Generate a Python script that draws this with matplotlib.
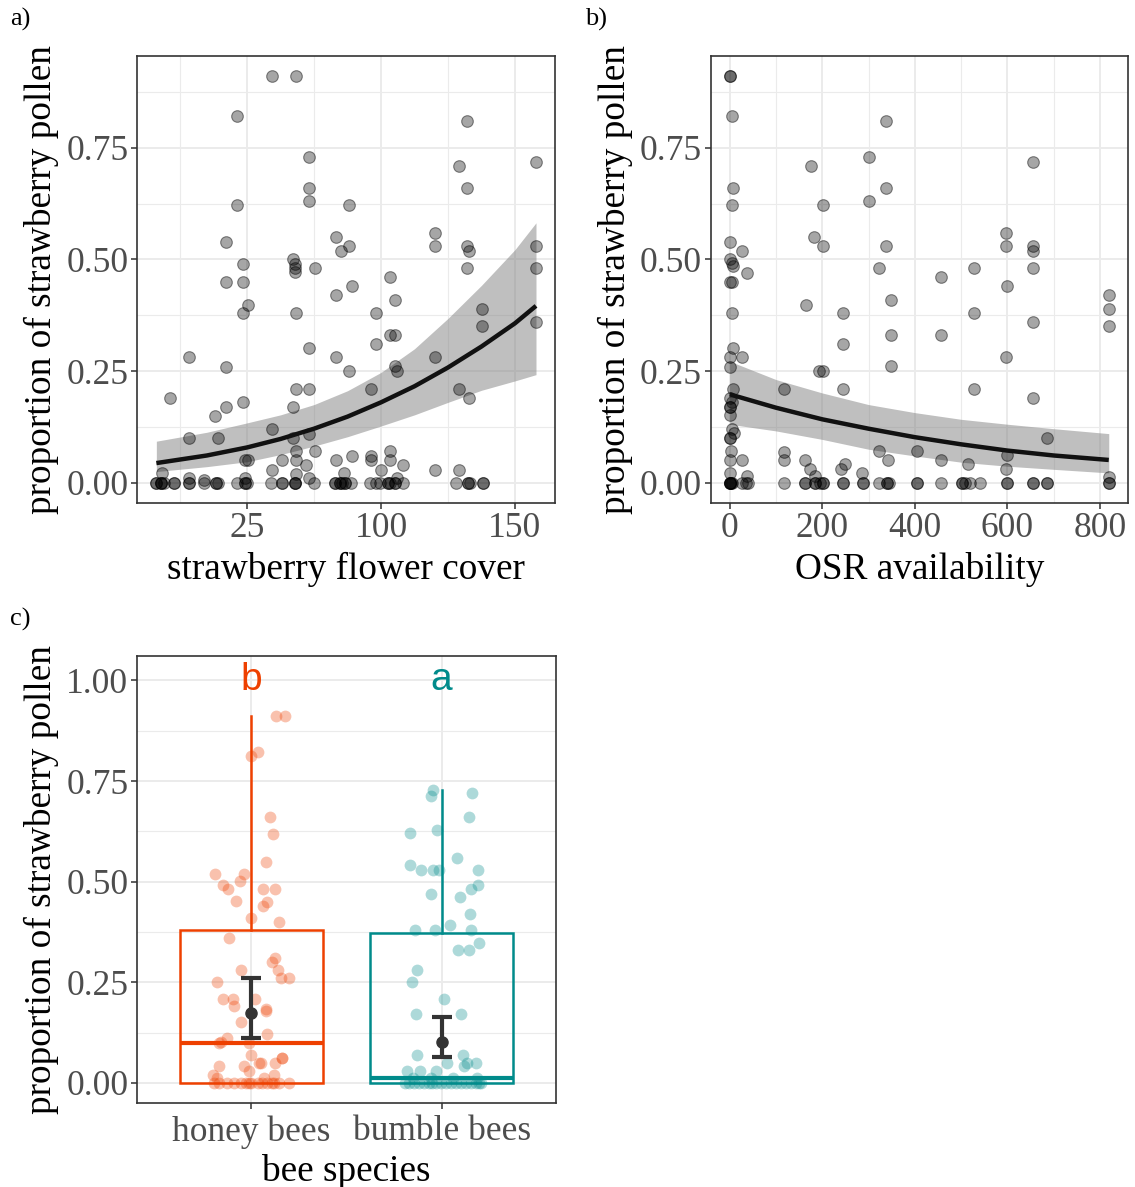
import numpy as np
import matplotlib
matplotlib.use('Agg')
import matplotlib.pyplot as plt
from matplotlib.ticker import FixedLocator

plt.rcParams['font.family'] = ['Liberation Serif', 'DejaVu Serif']

# a) pollen share vs strawberry flower cover (cover on model scale, labelled in raw units)
cover_ticks = [0, 1, 2]
cover_labels = ['25', '100', '150']
cover_x = [0.184, 0.363, -0.075, 1.642, 0.465, 1.582, 2.157, 0.465, 1.642, 0.465,
           0.761, -0.075, 1.400, -0.157, 0.662, 0.761, 0.701, 1.400, 1.642, 1.659,
           2.157, 0.343, 0.356, 0.356, 0.356, -0.032, 0.505, 1.642, 2.157, -0.157,
           -0.032, 1.065, 0.781, 0.662, 1.102, 0.005, -0.032, 0.363, 0.963, 1.756,
           1.756, 2.157, 1.065, 1.102, 0.963, 0.465, -0.435, 0.662, 1.400, -0.157,
           0.761, 1.102, 1.119, 0.363, 0.465, 0.923, 1.582, -0.577, 1.659, -0.032,
           -0.157, 0.343, -0.236, 0.184, -0.435, -0.216, 0.343, 0.465, 0.363, 0.505,
           1.065, 0.781, 0.923, 0.662, 0.923, 1.065, 0.264, 0.363, -0.012, 0.005,
           0.443, 1.162, 0.184, 1.002, 1.400, 1.582, -0.632, 0.363, 0.721, -0.435,
           -0.318, -0.017, 0.465, 1.119,
           -0.677, -0.677, -0.642, -0.642, -0.642, -0.622, -0.548, -0.548, -0.436, -0.436,
           -0.319, -0.229, -0.229, -0.219, -0.075, -0.013, -0.013, 0.000, 0.181, 0.261,
           0.261, 0.355, 0.355, 0.360, 0.497, 0.659, 0.659, 0.691, 0.691, 0.709,
           0.734, 0.734, 0.776, 0.920, 0.960, 0.995, 1.049, 1.049, 1.069, 1.107,
           1.107, 1.161, 1.562, 1.646, 1.646, 1.666, 1.761, 1.761]
cover_y = [0.910, 0.910, 0.821, 0.811, 0.730, 0.710, 0.719, 0.660, 0.660, 0.630,
           0.621, 0.621, 0.560, 0.540, 0.550, 0.531, 0.519, 0.531, 0.531, 0.520,
           0.531, 0.500, 0.489, 0.481, 0.472, 0.490, 0.481, 0.481, 0.481, 0.450,
           0.450, 0.460, 0.440, 0.420, 0.410, 0.399, 0.381, 0.379, 0.379, 0.390,
           0.351, 0.360, 0.330, 0.330, 0.310, 0.301, 0.281, 0.281, 0.281, 0.260,
           0.250, 0.261, 0.250, 0.210, 0.210, 0.210, 0.210, 0.190, 0.190, 0.181,
           0.169, 0.169, 0.150, 0.121, 0.100, 0.100, 0.100, 0.110, 0.072, 0.071,
           0.071, 0.060, 0.060, 0.051, 0.051, 0.051, 0.051, 0.051, 0.051, 0.051,
           0.040, 0.040, 0.029, 0.029, 0.029, 0.029, 0.021, 0.019, 0.021, 0.011,
           0.007, 0.011, 0.011, 0.011,
           0, 0, 0, 0, 0, 0, 0, 0, 0, 0,
           0, 0, 0, 0, 0, 0, 0, 0, 0, 0,
           0, 0, 0, 0, 0, 0, 0, 0, 0, 0,
           0, 0, 0, 0, 0, 0, 0, 0, 0, 0,
           0, 0, 0, 0, 0, 0, 0, 0]
cover_fit_x = [-0.677, -0.3, 0, 0.25, 0.5, 0.75, 1.0, 1.25, 1.5, 1.75, 2.0, 2.157]
cover_fit = [0.044, 0.061, 0.079, 0.098, 0.121, 0.148, 0.180, 0.216, 0.258, 0.305, 0.357, 0.396]
cover_fit_hi = [0.093, 0.113, 0.134, 0.152, 0.175, 0.206, 0.247, 0.300, 0.368, 0.442, 0.522, 0.582]
cover_fit_lo = [0.025, 0.036, 0.047, 0.063, 0.082, 0.103, 0.127, 0.152, 0.180, 0.207, 0.228, 0.242]

# b) pollen share vs OSR availability
osr_x = [1, 1, 4, 338, 301, 175, 656, 7, 338, 4, 201, 301, 0, 183, 201, 338, 597, 597,
         656, 656, 26, 0, 4, 7, 38, 323, 527, 656, 0, 5, 456, 599, 819, 819, 819, 164,
         244, 5, 527, 656, 348, 348, 456, 244, 7, 0, 26, 597, 0, 348, 192, 201, 7, 118,
         244, 527, 656, 0, 0, 0, 4, 0, 4, 9, 0, 0, 685, 322, 404, 3, 118, 118, 599, 0,
         26, 163, 343, 457, 250, 240, 174, 514, 598, 286, 0, 38, 185, 820,
         0, 0, 0, 0, 2, 5, 27, 36, 39, 118, 163, 163, 185, 185, 196, 201, 201, 244, 244,
         287, 287, 322, 340, 340, 345, 404, 404, 457, 502, 502, 509, 520, 540, 600, 600,
         655, 655, 685, 685, 820, 820]
osr_y = [0.910, 0.910, 0.821, 0.811, 0.730, 0.710, 0.719, 0.660, 0.660, 0.621, 0.621,
         0.630, 0.540, 0.550, 0.531, 0.531, 0.560, 0.531, 0.531, 0.520, 0.519, 0.500,
         0.493, 0.485, 0.470, 0.481, 0.481, 0.481, 0.450, 0.450, 0.460, 0.440, 0.420,
         0.390, 0.351, 0.399, 0.379, 0.379, 0.379, 0.360, 0.410, 0.330, 0.330, 0.310,
         0.301, 0.281, 0.281, 0.281, 0.260, 0.261, 0.250, 0.250, 0.210, 0.210, 0.210,
         0.210, 0.190, 0.190, 0.170, 0.170, 0.181, 0.151, 0.121, 0.112, 0.100, 0.100,
         0.100, 0.070, 0.071, 0.071, 0.068, 0.051, 0.061, 0.051, 0.051, 0.051, 0.051,
         0.051, 0.041, 0.031, 0.031, 0.041, 0.031, 0.021, 0.021, 0.016, 0.015, 0.013,
         0, 0, 0, 0, 0, 0, 0, 0, 0, 0, 0, 0, 0, 0, 0, 0, 0, 0, 0,
         0, 0, 0, 0, 0, 0, 0, 0, 0, 0, 0, 0, 0, 0, 0, 0,
         0, 0, 0, 0, 0, 0]
osr_fit_x = [0, 100, 200, 300, 400, 500, 600, 700, 819]
osr_fit = [0.198, 0.168, 0.142, 0.121, 0.102, 0.086, 0.072, 0.061, 0.051]
osr_fit_hi = [0.272, 0.231, 0.201, 0.175, 0.157, 0.142, 0.131, 0.121, 0.110]
osr_fit_lo = [0.131, 0.116, 0.097, 0.075, 0.060, 0.046, 0.037, 0.030, 0.022]

# c) pollen share by bee species
species = ['honey bees', 'bumble bees']
species_colors = ['#EE4000', '#008B8B']
species_letters = ['b', 'a']
box_q1 = [0.0, 0.0]
box_med = [0.099, 0.012]
box_q3 = [0.381, 0.3725]
box_whi = [0.911, 0.728]
mean_prop = [0.174, 0.102]
ci_lo = [0.112, 0.064]
ci_hi = [0.261, 0.163]

honey_dx = [0.131, 0.175, 0.000, 0.035, 0.100, 0.116, 0.079, -0.189, -0.039, -0.061,
            -0.151, -0.121, 0.060, 0.126, -0.082, 0.081, 0.060, 0.000, 0.147, -0.119,
            0.126, 0.109, -0.054, 0.138, 0.154, 0.196, -0.180, -0.152, -0.096, 0.019,
            -0.091, 0.079, 0.075, -0.056, 0.082, -0.161, -0.131, -0.173, -0.014, -0.004,
            0.159, 0.163, 0.040, 0.049, 0.123, -0.170, -0.039, -0.200, -0.182, -0.011,
            0.119, 0.067,
            -0.196, -0.170, -0.126, -0.091, -0.056, -0.030, -0.012, 0.000, 0.032, 0.058,
            0.084, 0.110, 0.119, 0.145, 0.198]
honey_y = [0.911, 0.911, 0.811, 0.821, 0.661, 0.619, 0.550, 0.520, 0.520, 0.502,
           0.492, 0.482, 0.482, 0.482, 0.451, 0.450, 0.439, 0.410, 0.400, 0.360,
           0.310, 0.300, 0.280, 0.280, 0.261, 0.261, 0.251, 0.209, 0.209, 0.209,
           0.190, 0.184, 0.178, 0.151, 0.122, 0.103, 0.112, 0.099, 0.099, 0.069,
           0.062, 0.062, 0.050, 0.050, 0.050, 0.041, 0.041, 0.021, 0.012, 0.029,
           0.021, 0.012,
           0, 0, 0, 0, 0, 0, 0, 0, 0, 0, 0, 0, 0, 0, 0]
bumble_dx = [-0.044, -0.056, 0.161, 0.144, -0.166, -0.026, 0.079, -0.166, -0.110, -0.047,
             -0.014, 0.189, 0.189, 0.154, -0.058, 0.098, 0.147, -0.142, -0.035, 0.044,
             0.154, 0.198, 0.088, 0.142, -0.131, -0.154, 0.014, -0.137, 0.100, -0.131,
             0.114, 0.131, 0.182, 0.028, -0.180, -0.114, -0.028, 0.117,
             -0.194, -0.172, -0.145, -0.119, -0.093, -0.067, -0.049, -0.032, -0.005, 0.021,
             0.047, 0.074, 0.100, 0.126, 0.152, 0.179, 0.196, 0.205,
             -0.149, -0.058, 0.060, 0.187]
bumble_y = [0.728, 0.712, 0.720, 0.661, 0.620, 0.629, 0.559, 0.542, 0.530, 0.530,
            0.530, 0.530, 0.491, 0.482, 0.469, 0.462, 0.420, 0.381, 0.381, 0.392,
            0.381, 0.348, 0.331, 0.331, 0.280, 0.251, 0.209, 0.171, 0.171, 0.069,
            0.070, 0.050, 0.050, 0.050, 0.031, 0.031, 0.031, 0.041,
            0, 0, 0, 0, 0, 0, 0, 0, 0, 0, 0, 0, 0, 0, 0, 0, 0, 0,
            0.012, 0.012, 0.012, 0.012]

TICK_FS = 25.5
LABEL_FS = 26.8
GRID = '#EBEBEB'


def style_axes(ax):
    ax.set_facecolor('white')
    ax.set_axisbelow(True)
    for s in ax.spines.values():
        s.set_color('#333333')
        s.set_linewidth(1.2)
    ax.tick_params(which='major', length=4.5, width=1.1, color='#333333',
                   labelsize=TICK_FS, labelcolor='#4D4D4D', pad=2)
    ax.tick_params(which='minor', length=0)
    ax.grid(which='major', color=GRID, linewidth=1.4)
    ax.grid(which='minor', color=GRID, linewidth=0.8)


fig = plt.figure(figsize=(11.35, 11.87), dpi=100)
ax_a = fig.add_axes([0.1210, 0.5762, 0.3680, 0.3766])
ax_b = fig.add_axes([0.6262, 0.5762, 0.3674, 0.3766])
ax_c = fig.add_axes([0.1210, 0.0705, 0.3686, 0.3768])

pt_kw = dict(s=70, facecolor=(0, 0, 0, 0.35), edgecolor=(0, 0, 0, 0.45), linewidth=0.8, zorder=3)
y_major = [0, 0.25, 0.5, 0.75]
y_minor = [0.125, 0.375, 0.625, 0.875]

# panel a
ax_a.fill_between(cover_fit_x, cover_fit_lo, cover_fit_hi, color='#808080', alpha=0.5,
                  linewidth=0, zorder=2)
ax_a.scatter(cover_x, cover_y, **pt_kw)
ax_a.plot(cover_fit_x, cover_fit, color='#111111', linewidth=3.2, zorder=4,
          solid_capstyle='butt')
ax_a.set_xlim(-0.819, 2.299)
ax_a.set_ylim(-0.0455, 0.9555)
ax_a.xaxis.set_major_locator(FixedLocator(cover_ticks))
ax_a.set_xticklabels(cover_labels)
ax_a.xaxis.set_minor_locator(FixedLocator([-0.5, 0.5, 1.5]))
ax_a.yaxis.set_major_locator(FixedLocator(y_major))
ax_a.yaxis.set_minor_locator(FixedLocator(y_minor))
ax_a.set_yticklabels(['0.00', '0.25', '0.50', '0.75'])
style_axes(ax_a)
ax_a.set_xlabel('strawberry flower cover', fontsize=LABEL_FS, labelpad=5)
ax_a.set_ylabel('proportion of strawberry pollen', fontsize=LABEL_FS, labelpad=5)

# panel b
ax_b.fill_between(osr_fit_x, osr_fit_lo, osr_fit_hi, color='#808080', alpha=0.5,
                  linewidth=0, zorder=2)
ax_b.scatter(osr_x, osr_y, **pt_kw)
ax_b.plot(osr_fit_x, osr_fit, color='#111111', linewidth=3.2, zorder=4,
          solid_capstyle='butt')
ax_b.set_xlim(-41, 860)
ax_b.set_ylim(-0.0455, 0.9555)
ax_b.xaxis.set_major_locator(FixedLocator([0, 200, 400, 600, 800]))
ax_b.xaxis.set_minor_locator(FixedLocator([100, 300, 500, 700]))
ax_b.yaxis.set_major_locator(FixedLocator(y_major))
ax_b.yaxis.set_minor_locator(FixedLocator(y_minor))
ax_b.set_yticklabels(['0.00', '0.25', '0.50', '0.75'])
style_axes(ax_b)
ax_b.set_xlabel('OSR availability', fontsize=LABEL_FS, labelpad=5)
ax_b.set_ylabel('proportion of strawberry pollen', fontsize=LABEL_FS, labelpad=5)

# panel c
for i in range(2):
    st = dict(med=box_med[i], q1=box_q1[i], q3=box_q3[i],
              whislo=box_q1[i], whishi=box_whi[i], fliers=[])
    ax_c.bxp([st], positions=[i], widths=0.75, showcaps=False, showfliers=False,
             patch_artist=True,
             boxprops=dict(facecolor='none', edgecolor=species_colors[i], linewidth=1.8),
             whiskerprops=dict(color=species_colors[i], linewidth=1.8),
             medianprops=dict(color=species_colors[i], linewidth=3.0),
             manage_ticks=False, zorder=2)
jitter = [(honey_dx, honey_y), (bumble_dx, bumble_y)]
for i, (dx, yy) in enumerate(jitter):
    ax_c.scatter(np.array(dx) + i, yy, s=72, color=species_colors[i], alpha=0.32,
                 linewidth=0, zorder=3)
    ax_c.text(i, 1.0, species_letters[i], color=species_colors[i], fontsize=28,
              family=['Liberation Sans', 'DejaVu Sans'], ha='center', va='center', zorder=5)
pos = np.arange(2)
ax_c.errorbar(pos, mean_prop,
              yerr=[np.array(mean_prop) - np.array(ci_lo), np.array(ci_hi) - np.array(mean_prop)],
              fmt='o', color='#333333', markersize=8, elinewidth=3, capsize=7, capthick=3,
              zorder=6)
ax_c.set_xlim(-0.6, 1.6)
ax_c.set_ylim(-0.0505, 1.0605)
ax_c.xaxis.set_major_locator(FixedLocator([0, 1]))
ax_c.set_xticklabels(species)
ax_c.yaxis.set_major_locator(FixedLocator([0, 0.25, 0.5, 0.75, 1.0]))
ax_c.yaxis.set_minor_locator(FixedLocator([0.125, 0.375, 0.625, 0.875]))
ax_c.set_yticklabels(['0.00', '0.25', '0.50', '0.75', '1.00'])
style_axes(ax_c)
ax_c.tick_params(axis='x', pad=4)
ax_c.set_xlabel('bee species', fontsize=LABEL_FS, labelpad=4)
ax_c.set_ylabel('proportion of strawberry pollen', fontsize=LABEL_FS, labelpad=5)

fig.text(10 / 1135, 1 - 8 / 1187, 'a)', fontsize=19, ha='left', va='top')
fig.text(585 / 1135, 1 - 8 / 1187, 'b)', fontsize=19, ha='left', va='top')
fig.text(10 / 1135, 1 - 608 / 1187, 'c)', fontsize=19, ha='left', va='top')

fig.savefig('out.png', dpi=100, facecolor='white')
